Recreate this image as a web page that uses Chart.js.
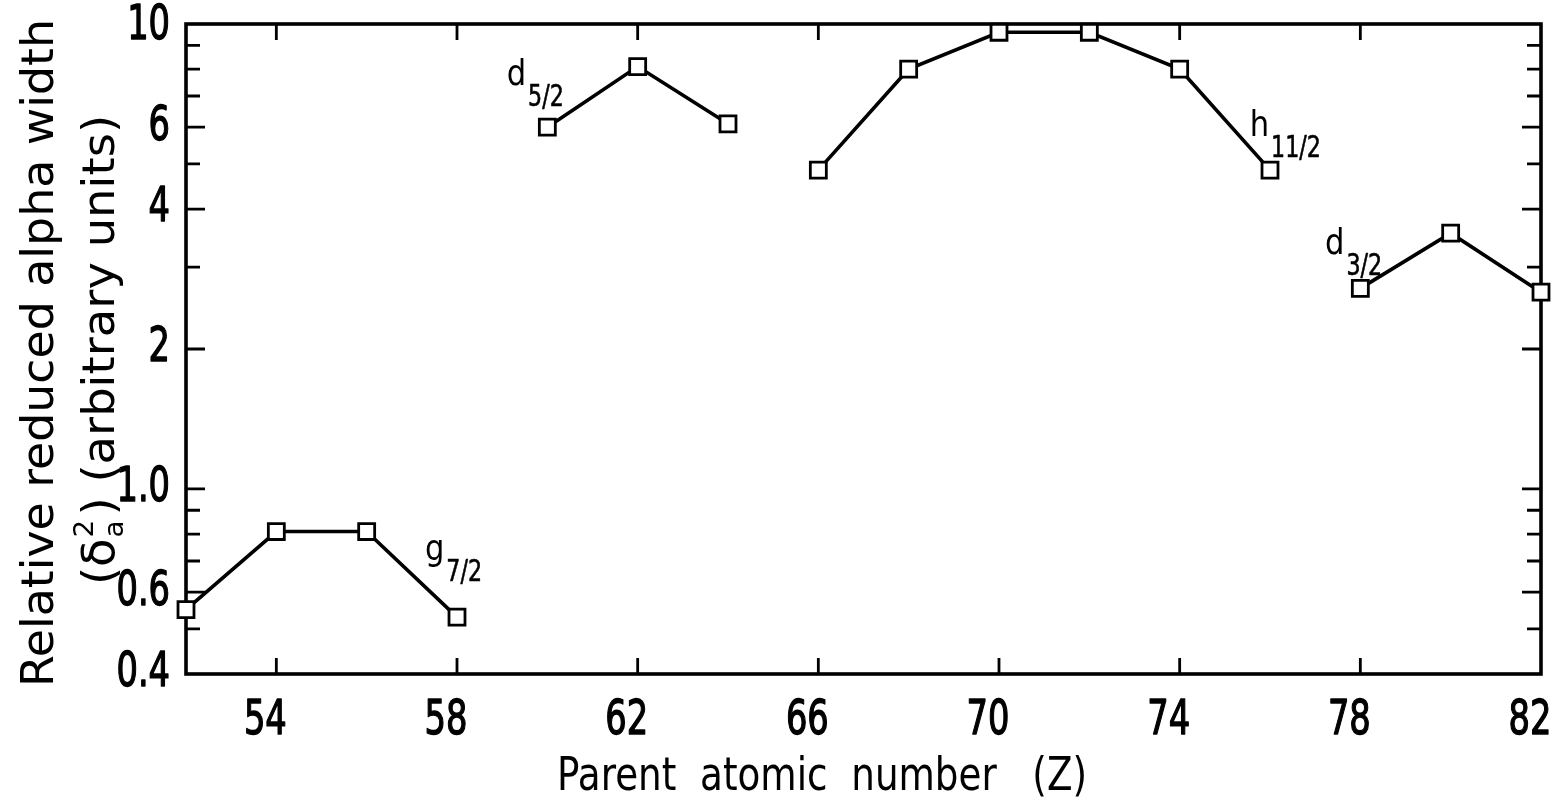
<!DOCTYPE html>
<html><head><meta charset="utf-8">
<script src="https://cdn.jsdelivr.net/npm/chart.js@4.4.1/dist/chart.umd.min.js"></script>
<style>html,body{margin:0;padding:0;background:#fff;overflow:hidden}#wrap{width:1560px;height:803px;position:relative}</style>
</head><body><div id="wrap"><canvas id="c"></canvas></div>
<script>
// ---- data ----
const zG7 = [52, 54, 56, 58];
const vG7 = [0.55, 0.81, 0.81, 0.53];
const zD5 = [60, 62, 64];
const vD5 = [6.0, 8.1, 6.1];
const zH11 = [66, 68, 70, 72, 74, 76];
const vH11 = [4.85, 8.0, 9.6, 9.6, 8.0, 4.85];
const zD3 = [78, 80, 82];
const vD3 = [2.7, 3.55, 2.65];
const seriesMain = ['g', 'd', 'h', 'd'];
const seriesSub = ['7/2', '5/2', '11/2', '3/2'];
const xTickValues = [54, 58, 62, 66, 70, 74, 78, 82];
const yTickValues = [0.4, 0.5, 0.6, 0.7, 0.8, 0.9, 1, 2, 3, 4, 5, 6, 7, 8, 9, 10];
const yLabelValues = [0.4, 0.6, 1, 2, 4, 6, 10];
const yLabelTexts = ['0.4', '0.6', '1.0', '2', '4', '6', '10'];
const xTitle = 'Parent  atomic  number   (Z)';
const yTitle1 = 'Relative reduced alpha width';
const yTitle2a = '(\u03B4';
const yTitle2b = ') (arbitrary units)';

const TICKFONT = '"Liberation Sans Narrow","DejaVu Sans Condensed","Liberation Sans",sans-serif';
const TEXTFONT = '"DejaVu Sans","Liberation Sans",sans-serif';

function pts(xs, ys) { return xs.map((x, i) => ({ x: x, y: ys[i] })); }
function ds(xs, ys) {
  return {
    data: pts(xs, ys), showLine: true, borderColor: '#000', borderWidth: 3.6,
    pointStyle: 'rect', pointRadius: 11.3, pointHoverRadius: 11.3,
    pointBorderWidth: 2.8, pointBackgroundColor: '#fff', pointBorderColor: '#000',
    clip: false, tension: 0
  };
}

function condText(ctx, text, x, y, font, sx, align, base, stroke) {
  ctx.save();
  ctx.font = font;
  ctx.textAlign = align || 'left';
  ctx.textBaseline = base || 'alphabetic';
  ctx.translate(x, y);
  ctx.scale(sx, 1);
  ctx.fillText(text, 0, 0);
  if (stroke) { ctx.lineWidth = stroke; ctx.strokeStyle = '#000'; ctx.lineJoin = 'round'; ctx.strokeText(text, 0, 0); }
  ctx.restore();
}

const framePlugin = {
  id: 'frame',
  beforeDatasetsDraw(chart) {
    const ctx = chart.ctx, ca = chart.chartArea, xs = chart.scales.x, ys = chart.scales.y;
    ctx.save();
    ctx.strokeStyle = '#000';
    ctx.lineCap = 'butt';
    ctx.lineWidth = 2.8;
    ctx.beginPath();
    for (const v of xTickValues) {
      if (v >= 82) continue;
      const px = xs.getPixelForValue(v);
      ctx.moveTo(px, ca.bottom); ctx.lineTo(px, ca.bottom - 16);
      ctx.moveTo(px, ca.top); ctx.lineTo(px, ca.top + 16);
    }
    for (const v of yTickValues) {
      if (v === 10 || v === 0.4) continue;
      const py = ys.getPixelForValue(v);
      const len = yLabelValues.includes(v) ? 19 : 14;
      ctx.moveTo(ca.left, py); ctx.lineTo(ca.left + len, py);
      ctx.moveTo(ca.right, py); ctx.lineTo(ca.right - len, py);
    }
    ctx.stroke();
    ctx.lineWidth = 3.6;
    ctx.strokeRect(ca.left, ca.top, ca.right - ca.left, ca.bottom - ca.top);
    ctx.restore();
  },
  afterDraw(chart) {
    const ctx = chart.ctx, ca = chart.chartArea, xs = chart.scales.x, ys = chart.scales.y;
    ctx.save();
    ctx.fillStyle = '#000';
    // tick labels (positions from the library's scales)
    const tf = '48px ' + TICKFONT;
    for (const v of xTickValues) {
      condText(ctx, String(v), xs.getPixelForValue(v) - 11, ca.bottom + 24, tf, 0.78, 'center', 'top', 1.3);
    }
    for (let i = 0; i < yLabelValues.length; i++) {
      let py = ys.getPixelForValue(yLabelValues[i]);
      if (yLabelValues[i] === 10) py += 3;
      condText(ctx, yLabelTexts[i], ca.left - 16, py, tf, 0.78, 'right', 'middle', 1.3);
    }
    // x title
    ctx.font = '46px ' + TEXTFONT;
    let w = ctx.measureText(xTitle).width;
    condText(ctx, xTitle, 822, 790, '46px ' + TEXTFONT, 530 / w, 'center');
    // y title line 1
    ctx.save();
    ctx.translate(53, 353);
    ctx.rotate(-Math.PI / 2);
    ctx.font = '44px ' + TEXTFONT;
    w = ctx.measureText(yTitle1).width;
    condText(ctx, yTitle1, 0, 0, '44px ' + TEXTFONT, 668 / w, 'center');
    ctx.restore();
    // y title line 2 with super/subscript
    ctx.save();
    ctx.translate(114, 350);
    ctx.rotate(-Math.PI / 2);
    const f2 = 44;
    ctx.font = f2 + 'px ' + TEXTFONT;
    const wa = ctx.measureText(yTitle2a).width;
    const wb = ctx.measureText(yTitle2b).width;
    ctx.font = (f2 * 0.6) + 'px ' + TEXTFONT;
    const wsup = ctx.measureText('2').width;
    const total = wa + wsup + 5 + wb;
    const k = 470 / total;
    ctx.scale(k, 1);
    const x0 = -total / 2;
    ctx.textAlign = 'left';
    ctx.font = f2 + 'px ' + TEXTFONT;
    ctx.fillText(yTitle2a, x0, 0);
    ctx.font = (f2 * 0.6) + 'px ' + TEXTFONT;
    ctx.fillText('2', x0 + wa + 1, -21);
    ctx.fillText('a', x0 + wa + 1, 9);
    ctx.font = f2 + 'px ' + TEXTFONT;
    ctx.fillText(yTitle2b, x0 + wa + wsup + 5, 0);
    ctx.restore();
    // series labels (anchored in data coordinates)
    const anchors = [[57.29, 0.705], [59.1, 7.39], [75.55, 5.75], [77.22, 3.2]];
    for (let i = 0; i < anchors.length; i++) {
      const ax = xs.getPixelForValue(anchors[i][0]);
      const ay = ys.getPixelForValue(anchors[i][1]);
      ctx.font = '36px ' + TEXTFONT;
      const wm = ctx.measureText(seriesMain[i]).width * 0.85;
      condText(ctx, seriesMain[i], ax, ay, '36px ' + TEXTFONT, 0.85, 'left');
      condText(ctx, seriesSub[i], ax + wm + 2, ay + 21, '30px ' + TICKFONT, 0.82, 'left', 'alphabetic', 0.6);
    }
    ctx.restore();
  }
};

new Chart(document.getElementById('c'), {
  type: 'scatter',
  data: { datasets: [ds(zG7, vG7), ds(zD5, vD5), ds(zH11, vH11), ds(zD3, vD3)] },
  options: {
    responsive: true, maintainAspectRatio: false, animation: false,
    layout: { padding: { top: 24, right: 19, left: 0, bottom: 0 } },
    plugins: { legend: { display: false }, tooltip: { enabled: false } },
    scales: {
      x: {
        type: 'linear', min: 52, max: 82,
        afterBuildTicks: s => { s.ticks = xTickValues.map(v => ({ value: v })); },
        afterFit: s => { s.height = 129; },
        grid: { display: false, drawTicks: false },
        border: { display: false },
        ticks: { display: false }
      },
      y: {
        type: 'logarithmic', min: 0.4, max: 10,
        afterBuildTicks: s => { s.ticks = yTickValues.map(v => ({ value: v })); },
        afterFit: s => { s.width = 186; },
        grid: { display: false, drawTicks: false },
        border: { display: false },
        ticks: { display: false }
      }
    }
  },
  plugins: [framePlugin]
});
</script>
</body></html>
